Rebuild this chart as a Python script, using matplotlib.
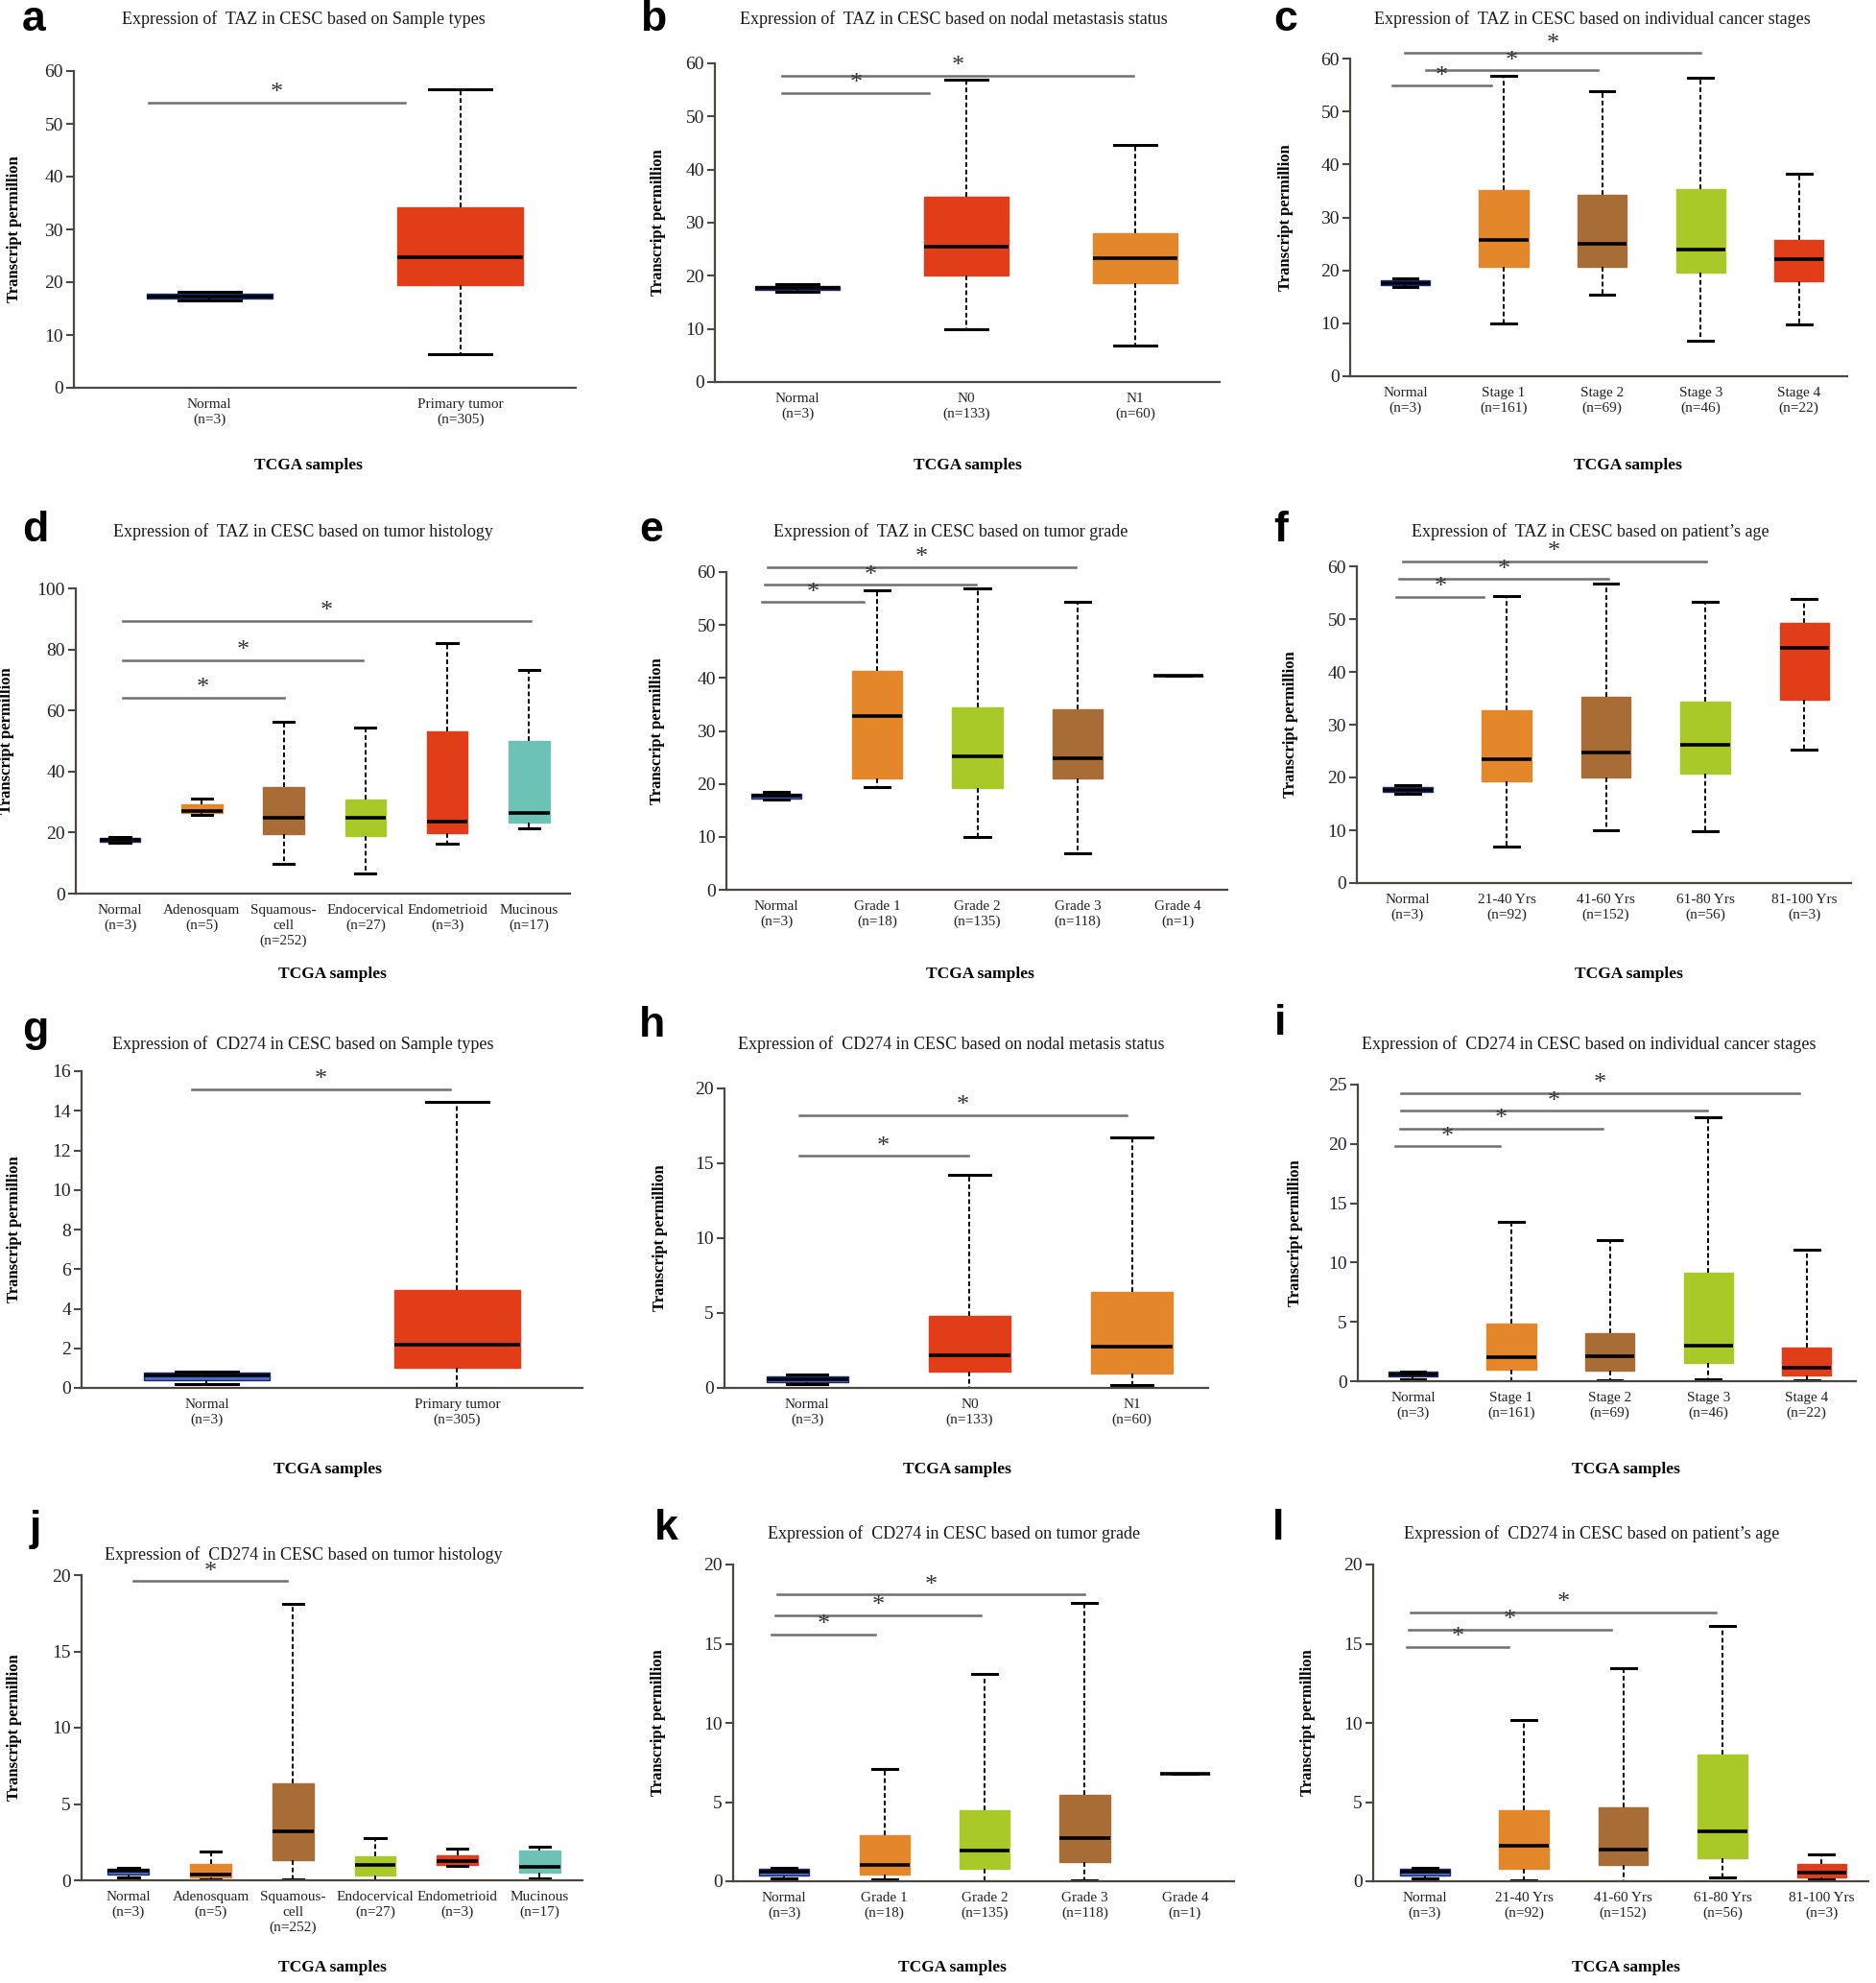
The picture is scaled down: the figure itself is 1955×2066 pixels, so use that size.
import matplotlib
matplotlib.use('Agg')
import matplotlib.pyplot as plt

plt.rcParams['font.family'] = ['Liberation Serif', 'DejaVu Serif']

W, H = 1956, 2066

BLUE = '#4a6cc6'
RED = '#e13d19'
ORANGE = '#e4862a'
BROWN = '#a86d36'
GREEN = '#a8c928'
TEAL = '#6cc2b4'

# ---- data: box stats are [whislo, q1, median, q3, whishi] ----
# sig lines are [x start, x end, y] in data units

# a: TAZ, sample types
a_groups = ['Normal\n(n=3)', 'Primary tumor\n(n=305)']
a_box = [[16.5, 16.9, 17.3, 17.8, 18.2],
         [6.4, 19.5, 24.8, 34.2, 56.5]]
a_sig = [[0.76, 1.78, 54.0]]

# b: TAZ, nodal metastasis
b_groups = ['Normal\n(n=3)', 'N0\n(n=133)', 'N1\n(n=60)']
b_box = [[17.0, 17.3, 17.7, 18.1, 18.5],
         [10.0, 20.1, 25.4, 34.9, 56.9],
         [6.8, 18.7, 23.3, 28.1, 44.6]]
b_sig = [[0.91, 1.78, 54.4], [0.91, 2.99, 57.7]]

# c: TAZ, cancer stages
c_groups = ['Normal\n(n=3)', 'Stage 1\n(n=161)', 'Stage 2\n(n=69)',
            'Stage 3\n(n=46)', 'Stage 4\n(n=22)']
c_box = [[16.9, 17.3, 17.6, 18.1, 18.5],
         [10.0, 20.7, 25.7, 35.1, 56.8],
         [15.4, 20.7, 25.1, 34.3, 53.8],
         [6.7, 19.5, 23.9, 35.3, 56.4],
         [9.8, 18.0, 22.1, 25.8, 38.2]]
c_sig = [[0.87, 1.87, 54.9], [1.21, 2.96, 57.8], [1.0, 4.0, 61.0]]

# d: TAZ, tumor histology
d_groups = ['Normal\n(n=3)', 'Adenosquam\n(n=5)', 'Squamous-\ncell\n(n=252)',
            'Endocervical\n(n=27)', 'Endometrioid\n(n=3)', 'Mucinous\n(n=17)']
d_box = [[16.8, 17.0, 17.5, 18.1, 18.5],
         [25.9, 26.5, 27.2, 29.1, 31.0],
         [9.7, 19.5, 24.9, 34.9, 56.3],
         [6.5, 18.9, 24.9, 30.9, 54.4],
         [16.5, 19.7, 23.6, 53.0, 82.2],
         [21.5, 23.3, 26.5, 49.9, 73.2]]
d_sig = [[1.03, 3.0, 64.2], [1.03, 3.97, 76.4], [1.03, 6.02, 89.3]]

# e: TAZ, tumor grade
e_groups = ['Normal\n(n=3)', 'Grade 1\n(n=18)', 'Grade 2\n(n=135)',
            'Grade 3\n(n=118)', 'Grade 4\n(n=1)']
e_box = [[17.0, 17.3, 17.7, 18.2, 18.5],
         [19.4, 21.1, 32.8, 41.4, 56.6],
         [10.0, 19.2, 25.2, 34.4, 56.9],
         [6.8, 21.1, 24.9, 34.1, 54.4],
         [40.5, 40.5, 40.5, 40.5, 40.5]]
e_sig = [[0.85, 1.87, 54.3], [0.88, 2.99, 57.6], [0.91, 3.98, 60.9]]

# f: TAZ, patient's age
f_groups = ['Normal\n(n=3)', '21-40 Yrs\n(n=92)', '41-60 Yrs\n(n=152)',
            '61-80 Yrs\n(n=56)', '81-100 Yrs\n(n=3)']
f_box = [[17.0, 17.3, 17.7, 18.2, 18.5],
         [6.9, 19.3, 23.5, 32.8, 54.4],
         [10.0, 20.0, 24.8, 35.2, 56.7],
         [9.8, 20.7, 26.1, 34.4, 53.3],
         [25.3, 34.8, 44.5, 49.2, 53.9]]
f_sig = [[0.89, 1.77, 54.2], [0.92, 3.02, 57.6], [0.95, 4.01, 60.9]]

# g: CD274, sample types
g_groups = ['Normal\n(n=3)', 'Primary tumor\n(n=305)']
g_box = [[0.21, 0.37, 0.61, 0.78, 0.84],
         [0.0, 1.02, 2.16, 4.94, 14.43]]
g_sig = [[0.94, 1.97, 15.1]]

# h: CD274, nodal metastasis
h_groups = ['Normal\n(n=3)', 'N0\n(n=133)', 'N1\n(n=60)']
h_box = [[0.26, 0.41, 0.58, 0.79, 0.88],
         [0.0, 1.11, 2.18, 4.78, 14.2],
         [0.19, 0.96, 2.76, 6.38, 16.7]]
h_sig = [[0.95, 1.99, 15.5], [0.95, 2.97, 18.2]]

# i: CD274, cancer stages
i_groups = c_groups
i_box = [[0.19, 0.38, 0.59, 0.78, 0.84],
         [0.0, 1.0, 2.02, 4.85, 13.43],
         [0.11, 0.92, 2.13, 4.05, 11.89],
         [0.19, 1.54, 2.99, 9.12, 22.25],
         [0.11, 0.46, 1.13, 2.86, 11.08]]
i_sig = [[0.82, 1.88, 19.8], [0.87, 2.93, 21.3], [0.88, 3.99, 22.8], [0.88, 4.92, 24.3]]

# j: CD274, tumor histology
j_groups = d_groups
j_box = [[0.19, 0.36, 0.61, 0.78, 0.84],
         [0.08, 0.19, 0.36, 1.05, 1.87],
         [0.08, 1.30, 3.19, 6.37, 18.11],
         [0.0, 0.29, 0.99, 1.55, 2.77],
         [0.92, 1.03, 1.24, 1.66, 2.10],
         [0.15, 0.50, 0.88, 1.93, 2.20]]
j_sig = [[1.06, 2.93, 19.6]]

# k: CD274, tumor grade
k_groups = e_groups
k_box = [[0.20, 0.34, 0.61, 0.77, 0.85],
         [0.14, 0.40, 1.01, 2.93, 7.11],
         [0.0, 0.77, 1.96, 4.48, 13.07],
         [0.06, 1.21, 2.75, 5.45, 17.58],
         [6.77, 6.77, 6.77, 6.77, 6.77]]
k_sig = [[0.87, 1.91, 15.6], [0.91, 2.96, 16.8], [0.93, 4.0, 18.1]]

# l: CD274, patient's age
l_groups = f_groups
l_box = [[0.20, 0.34, 0.61, 0.77, 0.85],
         [0.06, 0.81, 2.22, 4.48, 10.18],
         [0.0, 1.01, 2.02, 4.65, 13.47],
         [0.24, 1.47, 3.17, 8.02, 16.12],
         [0.14, 0.26, 0.55, 1.11, 1.72]]
l_sig = [[0.82, 1.84, 14.8], [0.84, 2.88, 15.9], [0.86, 3.93, 17.0]]

titles = {
    'a': 'Expression of  TAZ in CESC based on Sample types',
    'b': 'Expression of  TAZ in CESC based on nodal metastasis status',
    'c': 'Expression of  TAZ in CESC based on individual cancer stages',
    'd': 'Expression of  TAZ in CESC based on tumor histology',
    'e': 'Expression of  TAZ in CESC based on tumor grade',
    'f': 'Expression of  TAZ in CESC based on patient\u2019s age',
    'g': 'Expression of  CD274 in CESC based on Sample types',
    'h': 'Expression of  CD274 in CESC based on nodal metasis status',
    'i': 'Expression of  CD274 in CESC based on individual cancer stages',
    'j': 'Expression of  CD274 in CESC based on tumor histology',
    'k': 'Expression of  CD274 in CESC based on tumor grade',
    'l': 'Expression of  CD274 in CESC based on patient\u2019s age',
}

# panel layout in pixels: axes (left, top, right, bottom), xlim, title (x, y),
# letter (x, y), xlabel (x, y), ylabel distance from axis
panels = [
    ('a', a_groups, a_box, [BLUE, RED], a_sig, range(0, 61, 10),
     (77, 74, 600, 404), (0.46, 2.46), (316, 20), (35, 20), (321, 485), 54),
    ('b', b_groups, b_box, [BLUE, RED, ORANGE], b_sig, range(0, 61, 10),
     (745, 66, 1271, 398), (0.51, 3.5), (994, 20), (681, 20), (1008, 485), 51),
    ('c', c_groups, c_box, [BLUE, ORANGE, BROWN, GREEN, RED], c_sig, range(0, 61, 10),
     (1407, 61, 1925, 392), (0.44, 5.49), (1659, 20), (1340, 20), (1696, 485), 59),
    ('d', d_groups, d_box, [BLUE, ORANGE, BROWN, GREEN, RED, TEAL], d_sig, range(0, 101, 20),
     (79, 613, 594, 931), (0.46, 6.5), (316, 554), (37, 553), (346, 1015), 64),
    ('e', e_groups, e_box, [BLUE, ORANGE, GREEN, BROWN, RED], e_sig, range(0, 61, 10),
     (757, 596, 1279, 927), (0.5, 5.49), (991, 554), (679, 553), (1021, 1015), 64),
    ('f', f_groups, f_box, [BLUE, ORANGE, BROWN, GREEN, RED], f_sig, range(0, 61, 10),
     (1414, 590, 1929, 920), (0.49, 5.47), (1657, 554), (1335, 553), (1697, 1015), 61),
    ('g', g_groups, g_box, [BLUE, RED], g_sig, range(0, 17, 2),
     (85, 1116, 607, 1446), (0.5, 2.5), (316, 1088), (37, 1073), (341, 1531), 62),
    ('h', h_groups, h_box, [BLUE, RED, ORANGE], h_sig, range(0, 21, 5),
     (755, 1134, 1259, 1446), (0.49, 3.47), (991, 1088), (680, 1068), (997, 1531), 59),
    ('i', i_groups, i_box, [BLUE, ORANGE, BROWN, GREEN, RED], i_sig, range(0, 26, 5),
     (1415, 1130, 1934, 1439), (0.44, 5.5), (1656, 1088), (1334, 1067), (1694, 1531), 57),
    ('j', j_groups, j_box, [BLUE, ORANGE, BROWN, GREEN, RED, TEAL], j_sig, range(0, 21, 5),
     (85, 1641, 607, 1959), (0.43, 6.52), (316, 1620), (37, 1593), (346, 2050), 62),
    ('k', k_groups, k_box, [BLUE, ORANGE, GREEN, BROWN, RED], k_sig, range(0, 21, 5),
     (764, 1630, 1286, 1960), (0.49, 5.49), (994, 1598), (694, 1592), (992, 2050), 70),
    ('l', l_groups, l_box, [BLUE, ORANGE, BROWN, GREEN, RED], l_sig, range(0, 21, 5),
     (1431, 1630, 1947, 1960), (0.48, 5.47), (1659, 1598), (1332, 1592), (1694, 2050), 60),
]

AXIS_COLOR = '#4d4741'

fig = plt.figure(figsize=(W / 100, H / 100), dpi=100)


def fx(x):
    return x / W


def fy(y):
    return 1 - y / H


for (letter, groups, box, colors, sig, yticks, rect, xlim,
     tpos, lpos, xlpos, ydist) in panels:
    l, t, r, b = rect
    ax = fig.add_axes([fx(l), fy(b), (r - l) / W, (b - t) / H])
    stats = []
    for (lo, q1, med, q3, hi), name in zip(box, groups):
        stats.append(dict(whislo=lo, q1=q1, med=med, q3=q3, whishi=hi,
                          fliers=[], label=name))
    pos = list(range(1, len(box) + 1))
    art = ax.bxp(stats, positions=pos, widths=0.5, capwidths=0.25,
                 patch_artist=True, showfliers=False,
                 whiskerprops=dict(color='black', lw=1.4, linestyle=(0, (2.5, 1.5))),
                 capprops=dict(color='black', lw=2.2),
                 medianprops=dict(color='black', lw=2.6),
                 boxprops=dict(lw=1.0))
    for patch, c in zip(art['boxes'], colors):
        patch.set_facecolor(c)
        patch.set_edgecolor('#1c2a6e' if c == BLUE else c)
    ax.set_xlim(*xlim)
    ax.set_ylim(0, yticks[-1])
    ax.set_yticks(list(yticks))
    ax.set_xticks(pos)
    ax.set_xticklabels(groups, fontsize=11, linespacing=1.25, color='#222222')
    ax.tick_params(axis='x', length=0, pad=8)
    ax.tick_params(axis='y', length=6, width=1.5, color=AXIS_COLOR,
                   labelsize=14, pad=2, labelcolor='#222222')
    for side in ['top', 'right']:
        ax.spines[side].set_visible(False)
    for side in ['left', 'bottom']:
        ax.spines[side].set_color(AXIS_COLOR)
        ax.spines[side].set_linewidth(1.6)

    ax.set_ylabel('Transcript permillion', fontsize=12, fontweight='bold')
    ax.yaxis.set_label_coords(-ydist / (r - l), 0.5)

    for x0, x1, y in sig:
        ax.plot([x0, x1], [y, y], color='#6f6f6f', lw=1.8, clip_on=False)
        ax.annotate('*', xy=((x0 + x1) / 2, y), xytext=(0, -1),
                    textcoords='offset points', ha='center', va='bottom',
                    fontsize=19, color='#333333', annotation_clip=False)

    fig.text(fx(tpos[0]), fy(tpos[1]), titles[letter], fontsize=13,
             ha='center', va='center', color='#1a1a1a')
    fig.text(fx(lpos[0]), fy(lpos[1]), letter, fontsize=32, fontweight='bold',
             family='Liberation Sans', ha='center', va='center')
    fig.text(fx(xlpos[0]), fy(xlpos[1]), 'TCGA samples', fontsize=12.5,
             fontweight='bold', ha='center', va='center')

fig.savefig('out.png', dpi=100)
